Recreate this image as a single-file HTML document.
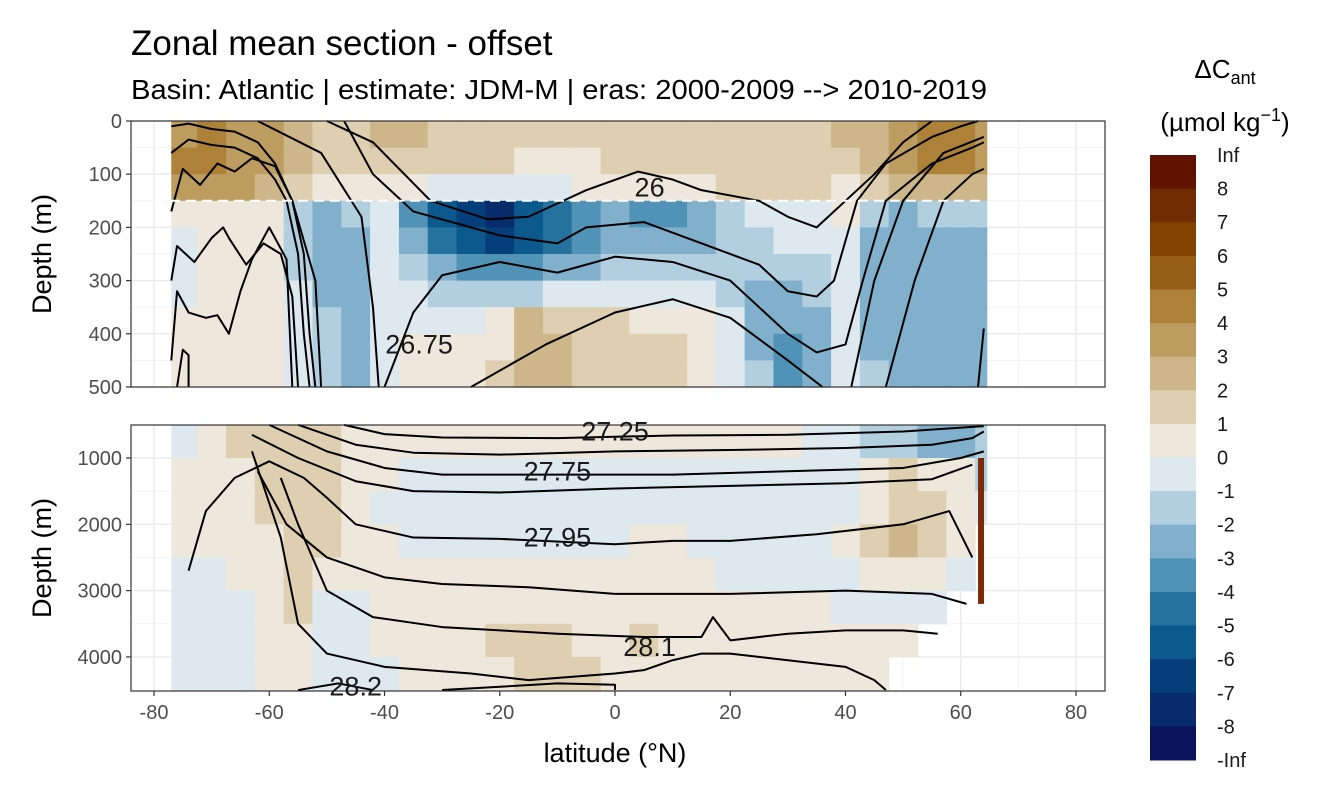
<!DOCTYPE html>
<html><head><meta charset="utf-8">
<style>
body{margin:0;background:#fff;font-family:"Liberation Sans",sans-serif;}
svg{display:block}
text{font-family:"Liberation Sans",sans-serif}
</style></head>
<body>
<svg id="chart" width="1344" height="806" viewBox="0 0 1344 806">
<text x="131" y="55" font-size="35" fill="#000">Zonal mean section - offset</text>
<text x="131" y="99" font-size="28" fill="#000" textLength="856" lengthAdjust="spacingAndGlyphs">Basin: Atlantic | estimate: JDM-M | eras: 2000-2009 --&gt; 2010-2019</text>
<g id="top"></g>
<g id="bot"></g>
<g id="xaxis"></g>
<text x="615" y="762" font-size="27" text-anchor="middle">latitude (°N)</text>
<text transform="translate(51,254) rotate(-90)" font-size="27" text-anchor="middle">Depth (m)</text>
<text transform="translate(51,558) rotate(-90)" font-size="27" text-anchor="middle">Depth (m)</text>
<g id="legend">
<text x="1225" y="78" font-size="26" text-anchor="middle">ΔC<tspan font-size="18" dy="6">ant</tspan></text>
<text x="1225" y="131" font-size="26" text-anchor="middle">(µmol kg<tspan font-size="18" dy="-10">−1</tspan><tspan dy="10">)</tspan></text>
</g>
</svg>
<script>
const lats=[-75,-70,-65,-60,-55,-50,-45,-40,-35,-30,-25,-20,-15,-10,-5,0,5,10,15,20,25,30,35,40,45,50,55,60,65];
const topDepths=[25,75,125,175,225,275,325,375,425,475];
const topValues=[
[3,4,3,3,2,1,1,2,2,1,1,1,1,1,1,1,1,1,1,1,1,1,1,2,2,3,4,4,3],
[4,4,3,3,2,1,1,1,1,1,1,1,0,0,0,1,1,1,1,1,1,1,1,1,2,3,4,4,3],
[3,3,3,2,1,0,0,0,0,-1,-1,-1,-1,-1,0,0,0,0,0,1,1,1,1,0,1,2,2,2,2],
[0,0,0,0,-2,-3,-2,-1,-4,-6,-7,-8,-6,-5,-4,-3,-4,-4,-3,-2,-1,-1,-1,0,-2,-3,-2,-2,-2],
[-1,0,0,0,-2,-3,-3,-1,-3,-5,-6,-7,-6,-5,-4,-3,-3,-3,-3,-2,-2,-1,-1,-1,-3,-3,-3,-3,-3],
[-1,0,0,0,-2,-3,-3,-1,-2,-3,-4,-4,-4,-3,-3,-2,-2,-2,-2,-2,-2,-2,-2,-1,-3,-3,-3,-3,-3],
[-1,0,0,0,-1,-3,-3,-1,-1,-2,-2,-2,-2,-1,-1,-1,-1,-1,-1,-2,-3,-3,-2,-1,-3,-3,-3,-3,-3],
[0,0,0,0,-1,-2,-3,-1,-1,-1,-1,0,2,1,1,1,0,0,0,-1,-3,-3,-3,-1,-3,-3,-3,-3,-3],
[0,0,0,0,-1,-2,-3,-1,0,0,0,0,2,2,1,1,1,1,0,-1,-3,-4,-3,-1,-3,-3,-3,-3,-3],
[0,0,0,0,-1,-2,-3,-1,0,0,0,1,2,2,1,1,1,1,0,-1,-2,-4,-3,-1,-2,-3,-3,-3,-3]];
const botDepths=[750,1250,1750,2250,2750,3250,3750,4250];
const N=null;
const botValues=[
[-1,0,1,1,1,1,0,0,0,0,0,0,0,0,0,0,0,0,0,0,0,0,-1,-1,-2,-2,-3,-3,-2],
[0,0,0,1,1,1,0,0,-1,-1,-1,-1,-1,-1,-1,-1,-1,-1,-1,-1,-1,-1,-1,-1,0,1,0,0,-2],
[0,0,0,1,1,1,0,-1,-1,-1,-1,-1,-1,-1,-1,-1,-1,-1,-1,-1,-1,-1,-1,-1,0,1,1,0,-1],
[0,0,0,0,1,1,0,0,-1,-1,-1,-1,-1,-1,-1,-1,0,0,-1,-1,-1,-1,-1,0,1,2,1,0,N],
[-1,-1,0,0,1,0,0,0,0,0,0,0,0,0,0,0,0,0,0,-1,-1,-1,-1,-1,0,0,0,-1,N],
[-1,-1,-1,0,1,-1,-1,0,0,0,0,0,0,0,0,0,0,0,0,0,0,0,0,-1,-1,-1,-1,N,N],
[-1,-1,-1,0,0,-1,-1,0,0,0,0,1,1,1,0,0,1,0,0,0,0,0,0,0,0,0,N,N,N],
[-1,-1,-1,0,0,-1,-1,-1,0,0,0,0,1,1,1,0,0,0,0,0,0,0,0,0,0,N,N,N,N]];
const legendLabels=["Inf","8","7","6","5","4","3","2","1","0","-1","-2","-3","-4","-5","-6","-7","-8","-Inf"];
const binColors=["#5f1300","#6e2c00","#7f4200","#955e14","#ad8238","#bd9c5f","#cdb689","#ddcfb0","#ede7dc","#dde9ef","#b2cfe0","#80b0cb","#5193b6","#26729f","#0c5a8d","#053f7b","#072b6b","#0a145a"];
const xTicks=[-80,-60,-40,-20,0,20,40,60,80];
const topTicks=[0,100,200,300,400,500];
const botTicks=[1000,2000,3000,4000];
const topContours=[
[[-77,10],[-74,5],[-70,15],[-66,20],[-62,40],[-59,80],[-56,150],[-54,250],[-53,400],[-52,500]],
[[-77,60],[-74,35],[-70,45],[-66,50],[-62,70],[-59,110],[-57,150],[-55,250],[-54,400],[-53,500]],
[[-77,170],[-75,90],[-72,120],[-69,80],[-66,95],[-63,70],[-59,85],[-56,150],[-52,300],[-51,500]],
[[-62,0],[-51,60],[-44,180],[-42,350],[-41,500]],
[[-50,0],[-42,40],[-32,150],[-22,185],[-15,180],[-5,130],[4,95],[10,110],[15,130],[25,150],[30,180],[35,200],[40,150],[45,100],[50,40],[55,0]],
[[-47,0],[-42,100],[-35,170],[-25,200],[-20,215],[-10,230],[-5,200],[5,190],[15,230],[25,270],[30,320],[35,330],[38,300],[42,150],[47,80],[55,30],[60,10],[63,0]],
[[-40,500],[-35,360],[-30,290],[-20,265],[-10,285],[0,255],[10,265],[20,300],[25,350],[30,400],[35,435],[40,420],[43,300],[47,150],[55,80],[62,50],[64,40]],
[[-25,500],[-12,420],[0,360],[10,335],[20,370],[30,450],[36,500]],
[[41,500],[45,300],[50,150],[57,60],[64,30]],
[[47,500],[52,300],[57,150],[62,100],[64,90]],
[[-77,300],[-76,235],[-73,265],[-70,220],[-68,200],[-67,220],[-64,270],[-61,230],[-58,250],[-56,330],[-55,500]],
[[-77,450],[-76,320],[-74,360],[-71,370],[-69,365],[-67,400],[-65,320],[-63,260],[-60,200],[-57,260],[-56,500]],
[[-76,500],[-75,430],[-74,440],[-74,500]],
[[63,500],[64,390]]];
const botContours=[
[[-47,500],[-40,640],[-30,690],[-10,700],[10,660],[30,650],[50,600],[64,520]],
[[-55,500],[-45,800],[-35,920],[-20,950],[0,900],[20,880],[40,850],[55,800],[62,700],[64,600]],
[[-60,500],[-50,900],[-40,1150],[-30,1250],[-10,1250],[10,1250],[30,1200],[50,1150],[60,1000],[64,900]],
[[-63,650],[-55,1000],[-45,1350],[-35,1500],[-20,1520],[0,1460],[20,1420],[40,1380],[55,1320],[62,1100]],
[[-74,2700],[-71,1800],[-66,1300],[-60,1050],[-54,1300],[-50,1600],[-45,2000],[-35,2200],[-20,2220],[0,2300],[10,2250],[20,2250],[35,2150],[50,2000],[58,1800],[62,2500]],
[[-62,1200],[-57,2000],[-50,2500],[-40,2800],[-30,2900],[-15,2950],[0,3050],[20,3050],[40,3000],[55,3050],[61,3200]],
[[-58,1300],[-55,2000],[-50,3000],[-42,3400],[-30,3550],[-10,3650],[5,3700],[15,3700],[17,3400],[20,3750],[30,3650],[40,3600],[50,3600],[56,3650]],
[[-63,900],[-58,2200],[-55,3500],[-50,3950],[-40,4150],[-25,4250],[-15,4350],[0,4250],[5,4200],[10,4050],[15,3950],[20,3950],[30,4050],[40,4150],[45,4350],[47,4500]],
[[-55,4500],[-48,4400],[-42,4500]],
[[-30,4500],[-10,4400],[0,4420],[0,4500]]];
const NS="http://www.w3.org/2000/svg";
const X0=131,X1=1105;
const xs=l=>615+l*5.7625;
const yTop=d=>121+d*0.532;
const yBot=d=>458+(d-1000)*0.0663;
function colorOf(v){let k=Math.floor(v);if(k>8)k=8;if(k<-9)k=-9;return binColors[8-k];}
function mk(tag,attrs,parent){const e=document.createElementNS(NS,tag);for(const a in attrs)e.setAttribute(a,attrs[a]);parent.appendChild(e);return e;}
function panel(g,y0,y1,yf,depths,vals,dHalf,ticks,minor,contours,dmin,dmax,pfx){
  mk('rect',{x:X0,y:y0,width:X1-X0,height:y1-y0,fill:'#fff'},g);
  [-70,-50,-30,-10,10,30,50,70].forEach(l=>{const ln=mk('line',{x1:xs(l),x2:xs(l),y1:y0,y2:y1,stroke:'#f3f3f3','stroke-width':1},g);

});
  minor.forEach(d=>{const ln=mk('line',{x1:X0,x2:X1,y1:yf(d),y2:yf(d),stroke:'#f3f3f3','stroke-width':1},g);

});
  xTicks.forEach(l=>{const ln=mk('line',{x1:xs(l),x2:xs(l),y1:y0,y2:y1,stroke:'#ebebeb','stroke-width':1.5},g);

});
  ticks.forEach(d=>{const ln=mk('line',{x1:X0,x2:X1,y1:yf(d),y2:yf(d),stroke:'#ebebeb','stroke-width':1.5},g);

});
  depths.forEach((d,ri)=>{lats.forEach((l,ci)=>{const v=vals[ri][ci];if(v===null)return;
    const la=Math.max(-77,l-2.5),lb=Math.min(64.5,l+2.5);
    const da=Math.max(dmin,d-dHalf),db=Math.min(dmax,d+dHalf);
    const r=mk('rect',{x:xs(la),y:yf(da),width:xs(lb)-xs(la)+0.6,height:yf(db)-yf(da)+0.6,fill:colorOf(v)},g);
    
    });});
  contours.forEach(c=>{const p=mk('polyline',{points:c.map(q=>xs(q[0])+','+yf(Math.min(dmax,Math.max(dmin,q[1])))).join(' '),fill:'none',stroke:'#000','stroke-width':2,'stroke-linejoin':'round'},g);
    
    });
  mk('rect',{x:X0,y:y0,width:X1-X0,height:y1-y0,fill:'none',stroke:'#333','stroke-width':1.2},g);
  ticks.forEach(d=>{mk('line',{x1:X0-5,x2:X0,y1:yf(d),y2:yf(d),stroke:'#333','stroke-width':1.2},g);
    const t=mk('text',{x:X0-9,y:yf(d)+7,'font-size':20,'text-anchor':'end',fill:'#4d4d4d'},g);t.textContent=d;
    
    });
}
const gt=document.getElementById('top'),gb=document.getElementById('bot');
panel(gt,121,387,yTop,topDepths,topValues,25,topTicks,[50,150,250,350,450],topContours,0,500,'top');
const dl=mk('line',{x1:xs(-80),x2:xs(64),y1:yTop(150),y2:yTop(150),stroke:'#fff','stroke-width':2,'stroke-dasharray':'10,6'},gt);


panel(gb,425,691,yBot,botDepths,botValues,250,botTicks,[1500,2500,3500],botContours,500,4500,'bottom');
const red=mk('rect',{x:xs(63),y:yBot(1000),width:6,height:yBot(3200)-yBot(1000),fill:'#7a2a0a'},gb);


const labs=[[gt,'26',6,125,yTop],[gt,'26.75',-34,420,yTop],[gb,'27.25',0,600,yBot],[gb,'27.75',-10,1200,yBot],[gb,'27.95',-10,2200,yBot],[gb,'28.1',6,3850,yBot],[gb,'28.2',-45,4450,yBot]];
labs.forEach(a=>{const t=mk('text',{x:xs(a[2]),y:a[4](a[3])+9,'font-size':27,'text-anchor':'middle',fill:'#1a1a1a'},a[0]);t.textContent=a[1];
  
  });
const gx=document.getElementById('xaxis');
xTicks.forEach(l=>{mk('line',{x1:xs(l),x2:xs(l),y1:691,y2:696,stroke:'#333','stroke-width':1.2},gx);
  const t=mk('text',{x:xs(l),y:719,'font-size':20,'text-anchor':'middle',fill:'#4d4d4d'},gx);t.textContent=l;
  
  });
const gl=document.getElementById('legend');
const LB0=155,LB1=760,bh=(LB1-LB0)/binColors.length;
binColors.forEach((c,i)=>{const r=mk('rect',{x:1150,y:LB0+i*bh,width:46,height:bh+0.5,fill:c},gl);
  
  });
legendLabels.forEach((s,i)=>{const t=mk('text',{x:1217,y:LB0+i*bh+7,'font-size':20,fill:'#1a1a1a'},gl);t.textContent=s;
  
  });
</script>
</body></html>
